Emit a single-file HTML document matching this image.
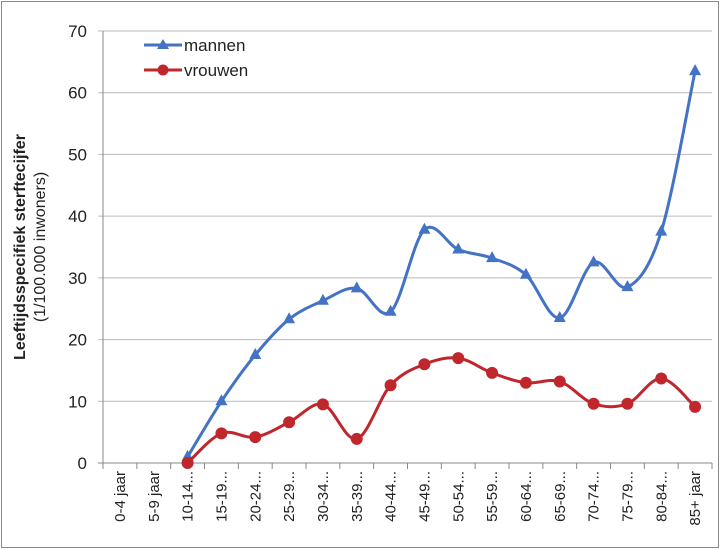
<!DOCTYPE html>
<html><head><meta charset="utf-8"><style>
body{margin:0;background:#fff;}
svg{display:block;font-family:"Liberation Sans",sans-serif;}
</style></head><body>
<svg id="c" width="720" height="549" viewBox="0 0 720 549">
<rect x="1.5" y="1.5" width="717" height="546" fill="#fff" stroke="#888"/>
<g id="grid"></g><g id="axes"></g><g id="series"></g>
<g>
 <g>
  <line x1="144" y1="45" x2="182" y2="45" stroke="#4472C4" stroke-width="3"/>
  <polygon points="163,39 169,49 157,49" fill="#4472C4"/>
  <text x="184" y="51" font-size="17" fill="#222">mannen</text></g>
 <g>
  <line x1="144" y1="70" x2="182" y2="70" stroke="#C0272D" stroke-width="3"/>
  <circle cx="163" cy="70" r="5.5" fill="#C0272D"/>
  <text x="184" y="76" font-size="17" fill="#222">vrouwen</text></g>
</g>
<text transform="translate(25,247) rotate(-90)" text-anchor="middle" font-size="16" font-weight="bold" fill="#222">Leeftijdsspecifiek sterftecijfer</text>
<text transform="translate(45,247) rotate(-90)" text-anchor="middle" font-size="16" fill="#222">(1/100.000 inwoners)</text>
</svg>
<script>
const categories=["0-4 jaar","5-9 jaar","10-14...","15-19...","20-24...","25-29...","30-34...","35-39...","40-44...","45-49...","50-54...","55-59...","60-64...","65-69...","70-74...","75-79...","80-84...","85+ jaar"];
const mannen=[null,null,1,10,17.5,23.3,26.3,28.3,24.5,37.8,34.6,33.2,30.5,23.5,32.5,28.5,37.5,63.5];
const vrouwen=[null,null,0,4.8,4.2,6.6,9.5,3.9,12.6,16,17,14.6,13,13.2,9.6,9.6,13.7,9.1];
const yTicks=[0,10,20,30,40,50,60,70];
const NS="http://www.w3.org/2000/svg";
const L=103,R=712,T=31,B=463;
const step=(R-L)/categories.length;
const xs=i=>L+step*(i+0.5);
const ys=v=>B-(v/70)*(B-T);
function mk(t,a,p){const e=document.createElementNS(NS,t);for(const k in a)e.setAttribute(k,a[k]);p.appendChild(e);return e;}
const grid=document.getElementById('grid'),axes=document.getElementById('axes'),ser=document.getElementById('series');
yTicks.forEach(v=>{
 const g=mk('line',{x1:L-5,x2:R,y1:ys(v),y2:ys(v),stroke:v===0?'#888':'#bbb','stroke-width':1},grid);
 
 
 const t=mk('text',{x:87,y:ys(v)+6,'text-anchor':'end','font-size':17,fill:'#222'},axes);
 t.textContent=v;
 
 
});
const ax=mk('line',{x1:L,x2:L,y1:T,y2:B+6,stroke:'#888'},axes);


categories.forEach((c,i)=>{
 const tk=mk('line',{x1:L+step*(i+1),x2:L+step*(i+1),y1:B,y2:B+6,stroke:'#888'},axes);
 
 
 const t=mk('text',{transform:`translate(${xs(i)+5},${B+8}) rotate(-90)`,'text-anchor':'end','font-size':15,fill:'#222'},axes);
 t.textContent=c;
 
 
});
function path(vals){
 const p=[];vals.forEach((v,i)=>{if(v!==null)p.push([xs(i),ys(v)]);});
 let d=`M${p[0][0]},${p[0][1]}`;
 for(let i=0;i<p.length-1;i++){
  const p0=p[i-1]||p[i],p1=p[i],p2=p[i+1],p3=p[i+2]||p2;
  const c1=[p1[0]+(p2[0]-p0[0])/6,p1[1]+(p2[1]-p0[1])/6],c2=[p2[0]-(p3[0]-p1[0])/6,p2[1]-(p3[1]-p1[1])/6];
  d+=` C${c1[0]},${c1[1]} ${c2[0]},${c2[1]} ${p2[0]},${p2[1]}`;
 }return d;
}
function series(vals,col,name,tri){
 const l=mk('path',{d:path(vals),fill:'none',stroke:col,'stroke-width':3},ser);
 
 
 vals.forEach((v,i)=>{if(v===null)return;const x=xs(i),y=ys(v);
  const m=tri?mk('polygon',{points:`${x},${y-7} ${x+6},${y+4} ${x-6},${y+4}`,fill:col},ser):mk('circle',{cx:x,cy:y,r:6,fill:col},ser);
  
  
 });
}
series(mannen,'#4472C4','mannen',true);
series(vrouwen,'#C0272D','vrouwen',false);
</script>
</body></html>
